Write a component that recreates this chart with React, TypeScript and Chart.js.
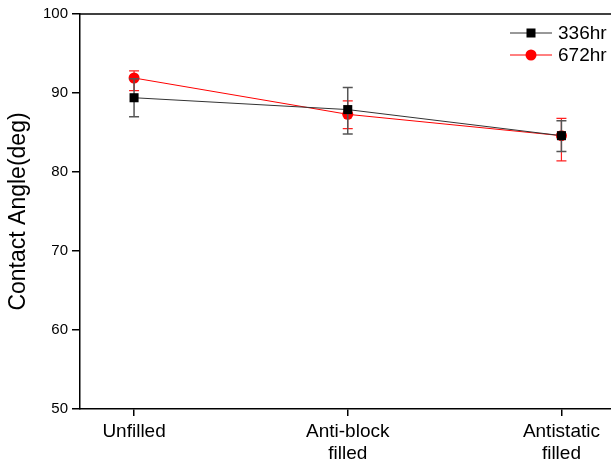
import React, { useEffect, useRef } from "react";
import { Chart, registerables } from "chart.js";

Chart.register(...registerables);

const categories: string[][] = [["Unfilled"], ["Anti-block", "filled"], ["Antistatic", "filled"]];
const yTicks = [50, 60, 70, 80, 90, 100];

const s336Label = "336hr";
const s336Values = [89.4, 87.9, 84.6];
const s336Low = [87.0, 84.8, 82.6];
const s336High = [91.8, 90.7, 86.5];

const s672Label = "672hr";
const s672Values = [91.9, 87.3, 84.6];
const s672Low = [90.3, 85.5, 81.4];
const s672High = [92.8, 89.0, 86.8];

const FONT = "Arial, 'Liberation Sans', sans-serif";

const errorBars = {
  id: "errorBars",
  beforeDatasetDraw(chart: any, args: any) {
    const ds = chart.data.datasets[args.index];
    const lows: number[] = ds.errLow;
    const highs: number[] = ds.errHigh;
    if (!lows) return;
    const xs = chart.scales.x;
    const ys = chart.scales.y;
    const ctx = chart.ctx;
    ctx.save();
    ctx.strokeStyle = ds.errColor;
    ctx.lineWidth = ds.errWidth;
    ds.data.forEach((p: any, i: number) => {
      const x = xs.getPixelForValue(p.x);
      const y1 = ys.getPixelForValue(lows[i]);
      const y2 = ys.getPixelForValue(highs[i]);
      const w = 5;
      ctx.beginPath();
      ctx.moveTo(x, y1);
      ctx.lineTo(x, y2);
      ctx.moveTo(x - w, y1);
      ctx.lineTo(x + w, y1);
      ctx.moveTo(x - w, y2);
      ctx.lineTo(x + w, y2);
      ctx.stroke();
    });
    ctx.restore();
  },
};

const frameAndLegend = {
  id: "frameAndLegend",
  afterDraw(chart: any) {
    const ctx = chart.ctx;
    const a = chart.chartArea;
    ctx.save();
    ctx.strokeStyle = "#000";
    ctx.lineWidth = 1.5;
    ctx.beginPath();
    ctx.moveTo(a.left, a.top);
    ctx.lineTo(chart.width, a.top);
    ctx.stroke();
    const rows = chart.data.datasets;
    rows.forEach((ds: any, i: number) => {
      const y = a.top + 19 + i * 22;
      const x0 = a.right - 101;
      const x1 = a.right - 59;
      const xm = (x0 + x1) / 2;
      ctx.strokeStyle = ds.borderColor;
      ctx.lineWidth = 1;
      ctx.beginPath();
      ctx.moveTo(x0, y);
      ctx.lineTo(x1, y);
      ctx.stroke();
      ctx.fillStyle = ds.pointBackgroundColor;
      if (ds.pointStyle === "rect") {
        ctx.fillRect(xm - 4.5, y - 4.5, 9, 9);
      } else {
        ctx.beginPath();
        ctx.arc(xm, y, 5.5, 0, Math.PI * 2);
        ctx.fill();
      }
      ctx.fillStyle = "#000";
      ctx.font = `19px ${FONT}`;
      ctx.textBaseline = "middle";
      ctx.textAlign = "left";
      ctx.fillText(ds.label, a.right - 53, y + 1);
    });
    ctx.restore();
  },
};

export default function App() {
  const ref = useRef<HTMLCanvasElement>(null);
  useEffect(() => {
    const toPts = (v: number[]) => v.map((y, i) => ({ x: i, y }));
    const chart = new Chart(ref.current as HTMLCanvasElement, {
      type: "line",
      data: {
        datasets: [
          {
            label: s336Label,
            data: toPts(s336Values),
            borderColor: "#333",
            borderWidth: 1,
            pointStyle: "rect",
            pointRadius: 6.4,
            pointBackgroundColor: "#000",
            pointBorderColor: "#000",
            pointBorderWidth: 0,
            errLow: s336Low,
            errHigh: s336High,
            errColor: "#555",
            errWidth: 1.5,
          } as any,
          {
            label: s672Label,
            data: toPts(s672Values),
            borderColor: "#ff0000",
            borderWidth: 1,
            pointStyle: "circle",
            pointRadius: 5.5,
            pointBackgroundColor: "#ff0000",
            pointBorderColor: "#ff0000",
            pointBorderWidth: 0,
            errLow: s672Low,
            errHigh: s672High,
            errColor: "#ff2020",
            errWidth: 1.2,
          } as any,
        ],
      },
      options: {
        animation: false,
        responsive: false,
        layout: { padding: 0, autoPadding: false },
        plugins: { legend: { display: false }, tooltip: { enabled: false } },
        scales: {
          x: {
            type: "linear",
            position: "bottom",
            min: -0.253,
            max: 2.232,
            afterBuildTicks: (s: any) => {
              s.ticks = categories.map((_, i) => ({ value: i }));
            },
            afterFit: (s: any) => {
              s.height = 54;
              s.paddingRight = 0;
              s.paddingLeft = 0;
            },
            ticks: {
              color: "#000",
              font: { family: FONT, size: 19 },
              padding: 4,
              maxRotation: 0,
              autoSkip: false,
              callback: (v: any) => categories[Math.round(v)] as any,
            },
            grid: { display: true, drawOnChartArea: false, drawTicks: true, tickLength: 7, color: "#000", lineWidth: 1.5 },
            border: { display: true, color: "#000", width: 1.5 },
          },
          xTop: {
            type: "linear",
            position: "top",
            min: 0,
            max: 1,
            afterFit: (s: any) => {
              s.height = 14;
              s.paddingRight = 0;
              s.paddingLeft = 0;
            },
            ticks: { display: false },
            grid: { display: false },
            border: { display: false },
          },
          y: {
            type: "linear",
            min: 50,
            max: 100,
            afterBuildTicks: (s: any) => {
              s.ticks = yTicks.map((v) => ({ value: v }));
            },
            afterFit: (s: any) => {
              s.width = 80;
              s.paddingTop = 0;
              s.paddingBottom = 0;
            },
            ticks: { color: "#000", font: { family: FONT, size: 15 }, padding: 4 },
            grid: { display: true, drawOnChartArea: false, drawTicks: true, tickLength: 8, color: "#000", lineWidth: 1.5 },
            border: { display: true, color: "#000", width: 1.5 },
            title: {
              display: true,
              text: "Contact Angle(deg)",
              color: "#000",
              font: { family: FONT, size: 23 },
              padding: { top: 5, bottom: 0 },
            },
          },
        },
      },
      plugins: [errorBars, frameAndLegend],
    });
    return () => chart.destroy();
  }, []);
  return (
    <div style={{ position: "fixed", left: 0, top: 0, width: 611, height: 463, background: "#fff" }}>
      <canvas ref={ref} width={611} height={463} />
    </div>
  );
}
